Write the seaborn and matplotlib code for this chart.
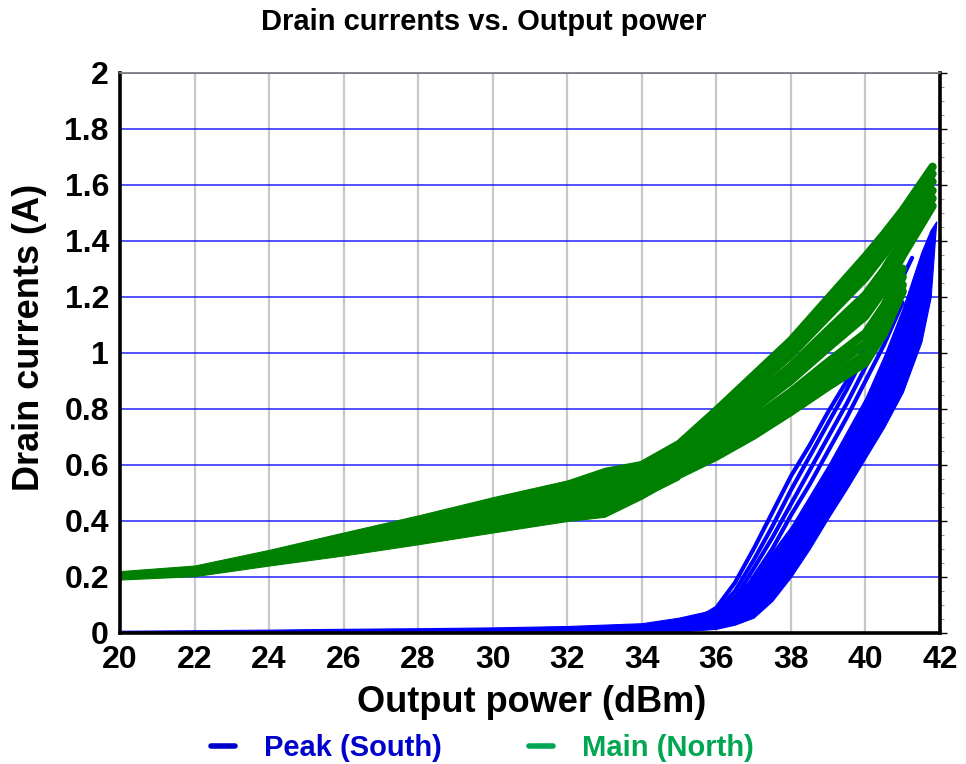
import numpy as np
import pandas as pd
import matplotlib
matplotlib.use("Agg")
import matplotlib.pyplot as plt
import seaborn as sns
from matplotlib.lines import Line2D
from matplotlib.ticker import MultipleLocator, FuncFormatter

nan = np.nan

# ---------------- data ----------------
x_ticks = [20, 22, 24, 26, 28, 30, 32, 34, 36, 38, 40, 42]
y_ticks = [0, 0.2, 0.4, 0.6, 0.8, 1.0, 1.2, 1.4, 1.6, 1.8, 2.0]

# Peak (South): dense band of sweeps
peak_band_x = [20, 22, 24, 26, 28, 30, 32, 34, 35, 36, 36.5, 37, 37.5, 38, 38.5,
               39, 39.5, 40, 40.5, 41, 41.5, 41.75, 41.9]
peak_band_hi = [0.008, 0.010, 0.012, 0.015, 0.017, 0.020, 0.025, 0.035, 0.055, 0.085,
                0.14, 0.20, 0.29, 0.38, 0.49, 0.60, 0.72, 0.84, 0.99, 1.16, 1.36, 1.44, 1.47]
peak_band_lo = [0, 0, 0, 0, 0, 0, 0, 0, 0.005, 0.015, 0.030, 0.055, 0.115, 0.20, 0.30,
                0.41, 0.515, 0.625, 0.735, 0.86, 1.04, 1.20, 1.47]

# Peak (South): separate thin sweeps on the left of the band
peak_strand_x = [35, 35.5, 36, 36.5, 37, 37.5, 38, 38.5, 39, 39.5, 40, 40.5, 40.8, 41.0, 41.25]
peak_s1 = [0.030, 0.050, 0.090, 0.18, 0.30, 0.43, 0.56, 0.67, 0.79, 0.90, 1.02, 1.15, 1.26, nan, nan]
peak_s2 = [0.025, 0.042, 0.078, 0.15, 0.26, 0.38, 0.51, 0.63, 0.75, 0.87, 1.00, 1.13, 1.21, 1.27, 1.34]
peak_s3 = [0.020, 0.035, 0.065, 0.125, 0.23, 0.34, 0.46, 0.58, 0.70, 0.82, 0.95, 1.08, 1.17, 1.22, nan]
peak_s4 = [0.015, 0.030, 0.055, 0.10, 0.20, 0.30, 0.42, 0.53, 0.65, 0.77, 0.90, 1.03, 1.12, 1.18, nan]

# Main (North): dense band of sweeps at low power
main_band_x = [20, 22, 24, 26, 28, 30, 32, 33, 34, 34.4, 35]
main_band_hi = [0.221, 0.241, 0.297, 0.359, 0.420, 0.485, 0.545, 0.590, 0.615, 0.625, 0.660]
main_band_lo = [0.191, 0.203, 0.241, 0.277, 0.317, 0.359, 0.400, 0.415, 0.480, 0.510, 0.550]

# Main (North): sweeps fanning out at high power
main_strand_x = [34, 35, 36, 37, 38, 39, 40, 40.5, 41, 41.8]
main_s1 = [0.600, 0.675, 0.795, 0.920, 1.045, 1.195, 1.345, 1.425, 1.510, 1.665]
main_s2 = [0.590, 0.664, 0.779, 0.899, 1.020, 1.164, 1.307, 1.390, 1.481, 1.640]
main_s3 = [0.579, 0.653, 0.762, 0.877, 0.994, 1.132, 1.269, 1.354, 1.452, 1.612]
main_s4 = [0.562, 0.635, 0.736, 0.843, 0.953, 1.082, 1.208, 1.297, 1.406, 1.580]
main_s5 = [0.552, 0.624, 0.719, 0.821, 0.928, 1.049, 1.170, 1.262, 1.377, 1.552]
main_s6 = [0.541, 0.613, 0.703, 0.800, 0.902, 1.019, 1.132, 1.226, 1.348, 1.525]
main_s7 = [0.524, 0.596, 0.676, 0.765, 0.861, 0.968, 1.071, 1.169, 1.301, nan]
main_s8 = [0.514, 0.585, 0.660, 0.744, 0.836, 0.937, 1.033, 1.134, 1.272, nan]
main_s9 = [0.503, 0.574, 0.643, 0.722, 0.810, 0.905, 0.995, 1.098, 1.243, nan]
main_s10 = [0.495, 0.565, 0.630, 0.705, 0.790, 0.880, 0.965, 1.070, 1.220, nan]

series_labels = ["Peak (South)", "Main (North)"]

# ---------------- styles ----------------
BLUE = "#0000FF"
GREEN = "#008000"
LEG_BLUE = "#0000CC"
LEG_GREEN = "#00A651"


def long_df(xs, strands):
    rows = []
    for i, ys in enumerate(strands):
        for xv, yv in zip(xs, ys):
            rows.append({"x": xv, "y": yv, "strand": i})
    return pd.DataFrame(rows).dropna()


peak_df = long_df(peak_strand_x, [peak_s1, peak_s2, peak_s3, peak_s4])
main_df = long_df(main_strand_x, [main_s1, main_s2, main_s3, main_s4, main_s5,
                                  main_s6, main_s7, main_s8, main_s9, main_s10])

sns.set_style("white")
plt.rcParams["font.family"] = ["Liberation Sans", "DejaVu Sans"]
plt.rcParams["font.weight"] = "bold"
plt.rcParams["text.color"] = "black"
plt.rcParams["axes.labelcolor"] = "black"
plt.rcParams["xtick.color"] = "black"
plt.rcParams["ytick.color"] = "black"

fig = plt.figure(figsize=(9.66, 7.64), dpi=100)
ax = fig.add_axes([120 / 966, 131 / 764, 820 / 966, 560 / 764])

# Peak
ax.fill_between(peak_band_x, peak_band_lo, peak_band_hi, color=BLUE, lw=0.8, zorder=3)
sns.lineplot(data=peak_df, x="x", y="y", units="strand", estimator=None, sort=False,
             color=BLUE, lw=3, ax=ax, legend=False, zorder=4,
             solid_capstyle="round", solid_joinstyle="round")
# Main
ax.fill_between(main_band_x, main_band_lo, main_band_hi, color=GREEN, lw=0.8, zorder=5)
sns.lineplot(data=main_df, x="x", y="y", units="strand", estimator=None, sort=False,
             color=GREEN, lw=6, ax=ax, legend=False, zorder=6,
             solid_capstyle="round", solid_joinstyle="round")

ax.set_xlim(20, 42)
ax.set_ylim(0, 2)
ax.set_xticks(x_ticks)
ax.set_yticks(y_ticks)
ax.xaxis.set_minor_locator(MultipleLocator(0.5))
ax.yaxis.set_minor_locator(MultipleLocator(0.05))
ax.yaxis.set_major_formatter(FuncFormatter(lambda v, p: f"{v:g}"))

ax.set_axisbelow(True)
ax.yaxis.grid(True, which="major", color="#2020FF", lw=1.1)
ax.xaxis.grid(True, which="major", color="#C8C8C8", lw=1.6)

ax.tick_params(axis="both", which="major", direction="out", length=5, width=1,
               color="black", labelcolor="black", labelsize=23, pad=3)
ax.tick_params(axis="both", which="minor", direction="out", length=3, width=0.8,
               color="#999999")
ax.tick_params(axis="y", which="both", right=True, labelright=False)
ax.tick_params(axis="x", which="major", pad=4)

for s in ["left", "bottom", "right"]:
    ax.spines[s].set_linewidth(2.6)
    ax.spines[s].set_color("black")
ax.spines["top"].set_linewidth(1.3)
ax.spines["top"].set_color("#7f7f7f")
for s in ax.spines.values():
    s.set_zorder(10)

ax.set_xlabel("Output power (dBm)", fontsize=26, fontweight="bold", color="black")
ax.xaxis.label.set_va("center")
ax.xaxis.set_label_coords(0.502, -0.125)
ax.set_ylabel("Drain currents (A)", fontsize=26, fontweight="bold", color="black")
ax.yaxis.label.set_va("center")
ax.yaxis.set_label_coords(-0.110, 0.527)

fig.text(0.501, 0.971, "Drain currents vs. Output power", ha="center", va="center",
         fontsize=21, fontweight="bold", color="black")

handles = [Line2D([], [], color=LEG_BLUE, lw=4),
           Line2D([], [], color=LEG_GREEN, lw=4)]
fig.legend(handles, series_labels, loc="center", bbox_to_anchor=(0.4995, 0.021),
           ncol=2, frameon=False, prop={"size": 21, "weight": "bold"},
           handlelength=0.8, handletextpad=1.0, columnspacing=3.0,
           labelcolor=[LEG_BLUE, LEG_GREEN])

fig.savefig("out.png", dpi=100)
